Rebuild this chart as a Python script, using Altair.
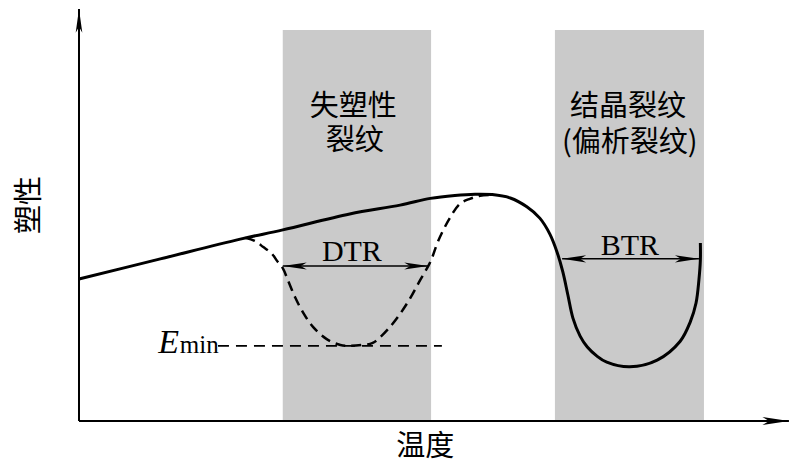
import altair as alt
import pandas as pd

# ---- data (temperature T, plasticity P in arbitrary units; axis length ~100) ----
solid_T = [0.0, 11.3, 22.4, 28.3, 37.6, 44.6, 48.8, 52.2, 55.0, 57.4, 59.9, 62.2, 64.0, 65.4,
           66.4, 67.2, 67.9, 68.6, 69.6, 70.6, 71.9, 73.3, 76.5, 80.3, 83.5, 84.9, 85.7, 86.1,
           86.3, 86.3]
solid_P = [33.8, 38.6, 43.3, 45.5, 49.3, 51.4, 53.0, 53.7, 54.0, 53.9, 53.1, 51.0, 48.3, 44.5,
           40.2, 35.5, 30.0, 24.5, 20.2, 17.6, 15.5, 14.0, 12.9, 14.5, 19.0, 23.6, 28.1, 33.6,
           38.3, 42.4]

dash_T = [23.1, 24.4, 25.6, 26.8, 27.6, 28.3, 29.0, 30.0, 31.0, 32.5, 34.4, 36.3, 37.6, 39.3,
          40.8, 43.2, 45.6, 47.4, 48.8, 49.9, 51.5, 52.9, 54.3, 55.7, 57.1]
dash_P = [43.6, 42.9, 41.4, 39.8, 37.9, 36.4, 33.6, 29.5, 26.2, 22.4, 19.5, 18.1, 17.9, 18.1,
          18.6, 22.4, 28.1, 33.6, 37.9, 42.9, 48.3, 51.7, 52.9, 53.6, 53.8]

band_T0 = [28.3, 66.1]
band_T1 = [48.9, 86.8]
band_top = 93.1

emin_T = [19.3, 50.4]
emin_P = 17.9

range_names = ["DTR", "BTR"]
range_T0 = [28.3, 67.1]
range_T1 = [48.5, 86.1]
range_P = [36.9, 38.6]
range_text_T = [37.9, 76.5]
range_text_P = [38.1, 39.5]

cjk_text = ["失塑性", "裂纹", "结晶裂纹", "(偏析裂纹)", "温度"]
cjk_T = [38.1, 38.3, 76.25, 76.5, 48.1]
cjk_P = [74.7, 66.7, 74.7, 66.3, -6.3]

ylabel_text = "塑性"
ylabel_T = -6.8
ylabel_P = 51.4

axis_x_end = 98.6
axis_y_end = 98.1

# ---- layout ----
W, H = 782, 456
X_DOMAIN = [-9.861, 98.75]
Y_DOMAIN = [-10.238, 98.33]
xs = alt.Scale(domain=X_DOMAIN, nice=False, zero=False)
ys = alt.Scale(domain=Y_DOMAIN, nice=False, zero=False)


def X(f="T"):
    return alt.X(f"{f}:Q", scale=xs, axis=None)


def Y(f="P"):
    return alt.Y(f"{f}:Q", scale=ys, axis=None)


CJK = "Noto Sans CJK SC"
SERIF = "Liberation Serif"

ARROW_R = "M0,0 L-2,-0.3 L-1.5,0 L-2,0.3 Z"
ARROW_L = "M0,0 L2,-0.3 L1.5,0 L2,0.3 Z"
ARROW_U = "M0,0 L-0.28,2 L0,1.5 L0.28,2 Z"

bands = pd.DataFrame({"T": band_T0, "T2": band_T1, "P": [0.0, 0.0], "P2": [band_top] * 2})
band_layer = alt.Chart(bands).mark_rect(color="#cacaca").encode(
    x=X(), x2="T2:Q", y=Y(), y2="P2:Q")

solid = pd.DataFrame({"T": solid_T, "P": solid_P, "i": list(range(len(solid_T)))})
solid_layer = alt.Chart(solid).mark_line(
    color="black", strokeWidth=3, interpolate="catmull-rom").encode(
    x=X(), y=Y(), order="i:Q")

dash = pd.DataFrame({"T": dash_T, "P": dash_P, "i": list(range(len(dash_T)))})
dash_layer = alt.Chart(dash).mark_line(
    color="black", strokeWidth=2.5, strokeDash=[10, 6], interpolate="catmull-rom").encode(
    x=X(), y=Y(), order="i:Q")

emin = pd.DataFrame({"T": [emin_T[0]], "T2": [emin_T[1]], "P": [emin_P]})
emin_layer = alt.Chart(emin).mark_rule(
    color="black", strokeWidth=1.8, strokeDash=[11, 7]).encode(x=X(), x2="T2:Q", y=Y())

# axes
axes = pd.DataFrame({"T": [0.0, 0.0], "T2": [axis_x_end, 0.0], "P": [0.0, 0.0], "P2": [0.0, axis_y_end]})
axes_layer = alt.Chart(axes).mark_rule(color="black", strokeWidth=2).encode(
    x=X(), x2="T2:Q", y=Y(), y2="P2:Q")
xarrow = alt.Chart(pd.DataFrame({"T": [axis_x_end], "P": [0.0]})).mark_point(
    shape=ARROW_R, filled=True, color="black", size=700, opacity=1, strokeWidth=0).encode(x=X(), y=Y())
yarrow = alt.Chart(pd.DataFrame({"T": [0.0], "P": [axis_y_end]})).mark_point(
    shape=ARROW_U, filled=True, color="black", size=560, opacity=1, strokeWidth=0).encode(x=X(), y=Y())

# range arrows
rng = pd.DataFrame({"name": range_names, "T": range_T0, "T2": range_T1, "P": range_P,
                    "tT": range_text_T, "tP": range_text_P})
rng_rule = alt.Chart(rng).mark_rule(color="black", strokeWidth=1.5).encode(x=X(), x2="T2:Q", y=Y())
rng_left = alt.Chart(rng).mark_point(
    shape=ARROW_L, filled=True, color="black", size=576, opacity=1, strokeWidth=0).encode(x=X(), y=Y())
rng_right = alt.Chart(rng).mark_point(
    shape=ARROW_R, filled=True, color="black", size=576, opacity=1, strokeWidth=0).encode(x=X("T2"), y=Y())
rng_text = alt.Chart(rng).mark_text(
    font=SERIF, fontSize=30, color="black", baseline="alphabetic", align="center").encode(
    x=X("tT"), y=Y("tP"), text="name:N")

# E_min label
e_layer = alt.Chart(pd.DataFrame({"T": [11.0], "P": [16.2], "s": ["E"]})).mark_text(
    font=SERIF, fontSize=34, fontStyle="italic", color="black", baseline="alphabetic",
    align="left").encode(x=X(), y=Y(), text="s:N")
min_layer = alt.Chart(pd.DataFrame({"T": [14.0], "P": [16.2], "s": ["min"]})).mark_text(
    font=SERIF, fontSize=25, color="black", baseline="alphabetic", align="left").encode(
    x=X(), y=Y(), text="s:N")

# CJK labels
cjk = pd.DataFrame({"T": cjk_T, "P": cjk_P, "s": cjk_text})
cjk_layer = alt.Chart(cjk).mark_text(
    font=CJK, fontSize=29, color="black", baseline="middle", align="center").encode(
    x=X(), y=Y(), text="s:N")
ylab_layer = alt.Chart(pd.DataFrame({"T": [ylabel_T], "P": [ylabel_P], "s": [ylabel_text]})).mark_text(
    font=CJK, fontSize=29, color="black", baseline="middle", align="center", angle=270).encode(
    x=X(), y=Y(), text="s:N")

chart = alt.layer(
    band_layer, dash_layer, emin_layer, solid_layer, axes_layer, xarrow, yarrow,
    rng_rule, rng_left, rng_right, rng_text, e_layer, min_layer, cjk_layer, ylab_layer
).properties(
    width=W, height=H, autosize=alt.AutoSizeParams(type="none"), padding=0
).configure_view(stroke=None)

chart.save("out.html", embed_options={"renderer": "svg", "actions": False})
